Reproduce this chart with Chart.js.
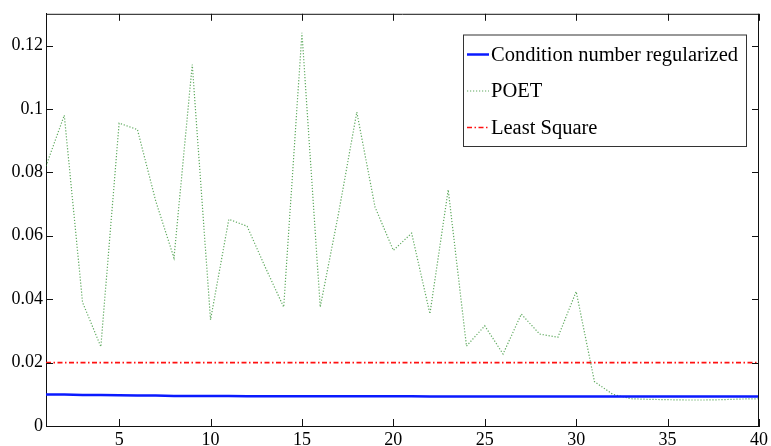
<!DOCTYPE html>
<html>
<head>
<meta charset="utf-8">
<script src="https://cdn.jsdelivr.net/npm/chart.js@4"></script>
<style>
  html, body { margin: 0; padding: 0; background: #fff; }
</style>
</head>
<body>
<canvas id="c" width="771" height="446"></canvas>
<script>
// ── Data ──────────────────────────────────────────────────────────────────────
const xValues = [1, 2, 3, 4, 5, 6, 7, 8, 9, 10, 11, 12, 13, 14, 15, 16, 17, 18, 19, 20,
  21, 22, 23, 24, 25, 26, 27, 28, 29, 30, 31, 32, 33, 34, 35, 36, 37, 38, 39, 40];

const condNumber = [0.0099, 0.0099, 0.0098, 0.0098, 0.0097, 0.0096, 0.0096, 0.0095, 0.0095, 0.0095,
  0.0095, 0.0094, 0.0094, 0.0094, 0.0094, 0.0094, 0.0094, 0.0094, 0.0094, 0.0094,
  0.0094, 0.0093, 0.0093, 0.0093, 0.0093, 0.0093, 0.0093, 0.0093, 0.0093, 0.0093,
  0.0093, 0.0093, 0.0093, 0.0093, 0.0093, 0.0093, 0.0093, 0.0093, 0.0093, 0.0093];

const poet = [0.082, 0.098, 0.039, 0.025, 0.0955, 0.0935, 0.071, 0.053, 0.114, 0.0335,
  0.0652, 0.063, 0.050, 0.0375, 0.124, 0.0375, 0.067, 0.099, 0.069, 0.0554,
  0.0608, 0.0354, 0.0745, 0.0252, 0.0316, 0.0227, 0.0353, 0.029, 0.028, 0.0424,
  0.0140, 0.0100, 0.0086, 0.0084, 0.0083, 0.0082, 0.0082, 0.0083, 0.0085, 0.0086];

const leastSquare = [0.02, 0.02, 0.02, 0.02, 0.02, 0.02, 0.02, 0.02, 0.02, 0.02,
  0.02, 0.02, 0.02, 0.02, 0.02, 0.02, 0.02, 0.02, 0.02, 0.02,
  0.02, 0.02, 0.02, 0.02, 0.02, 0.02, 0.02, 0.02, 0.02, 0.02,
  0.02, 0.02, 0.02, 0.02, 0.02, 0.02, 0.02, 0.02, 0.02, 0.02];

const seriesNames = ["Condition number regularized", "POET", "Least Square"];

const xTicks = [5, 10, 15, 20, 25, 30, 35, 40];
const yTicks = [0, 0.02, 0.04, 0.06, 0.08, 0.1, 0.12];
const yTickLabels = ["0", "0.02", "0.04", "0.06", "0.08", "0.1", "0.12"];

// ── Styling ───────────────────────────────────────────────────────────────────
const FONT = "Liberation Serif";
Chart.defaults.font.family = FONT;
Chart.defaults.color = "#000";

const toPoints = (ys) => ys.map((y, i) => ({ x: xValues[i], y }));

// Inward MATLAB-style ticks on all four sides plus the top/right frame
const framePlugin = {
  id: "frame",
  afterDatasetsDraw(chart) {
    const { ctx, chartArea: a, scales } = chart;
    const len = 7;
    ctx.save();
    ctx.strokeStyle = "#111";
    ctx.lineWidth = 1;
    ctx.beginPath();
    ctx.moveTo(a.left, a.top + 0.5); ctx.lineTo(a.right, a.top + 0.5);
    ctx.moveTo(a.right - 0.5, a.top); ctx.lineTo(a.right - 0.5, a.bottom);
    xTicks.forEach((v) => {
      const px = Math.round(scales.x.getPixelForValue(v)) + 0.5;
      ctx.moveTo(px, a.bottom); ctx.lineTo(px, a.bottom - len);
      ctx.moveTo(px, a.top); ctx.lineTo(px, a.top + len);
    });
    yTicks.forEach((v) => {
      const py = Math.round(scales.y.getPixelForValue(v)) + 0.5;
      ctx.moveTo(a.left, py); ctx.lineTo(a.left + len, py);
      ctx.moveTo(a.right, py); ctx.lineTo(a.right - len, py);
    });
    ctx.stroke();
    ctx.restore();
  },
};

// Boxed legend in the top-right corner of the axes
const boxLegendPlugin = {
  id: "boxLegend",
  afterDraw(chart) {
    const { ctx } = chart;
    const box = { x: 463, y: 34.5, w: 283, h: 111.5 };
    ctx.save();
    ctx.fillStyle = "#fff";
    ctx.fillRect(box.x, box.y, box.w, box.h);
    ctx.strokeStyle = "#333";
    ctx.lineWidth = 1;
    ctx.strokeRect(box.x + 0.5, box.y + 0.5, box.w, box.h);

    ctx.font = `20.5px ${FONT}`;
    ctx.textBaseline = "middle";
    ctx.fillStyle = "#000";
    chart.data.datasets.forEach((ds, i) => {
      const cy = 54.5 + i * 36.5;
      ctx.save();
      ctx.strokeStyle = ds.borderColor;
      ctx.lineWidth = ds.borderWidth;
      ctx.setLineDash(ds.borderDash || []);
      ctx.beginPath();
      ctx.moveTo(467, cy); ctx.lineTo(489, cy);
      ctx.stroke();
      ctx.restore();
      ctx.fillText(ds.label, 491, cy + 1);
    });
    ctx.restore();
  },
};

new Chart(document.getElementById("c"), {
  type: "line",
  data: {
    datasets: [
      { label: seriesNames[0], data: toPoints(condNumber), borderColor: "#0a1aff", borderWidth: 2.5 },
      { label: seriesNames[1], data: toPoints(poet), borderColor: "rgba(40,140,40,0.75)", borderWidth: 1.2, borderDash: [1.2, 1.8] },
      { label: seriesNames[2], data: toPoints(leastSquare), borderColor: "#ff1010", borderWidth: 1.6, borderDash: [5, 2.5, 1.5, 2.5] },
    ],
  },
  options: {
    responsive: false,
    animation: false,
    layout: { padding: { top: 13, right: 9, left: 0, bottom: 0 } },
    elements: { point: { radius: 0 }, line: { tension: 0 } },
    plugins: { legend: { display: false }, tooltip: { enabled: false } },
    scales: {
      x: {
        type: "linear", min: 1, max: 40,
        afterBuildTicks: (s) => { s.ticks = xTicks.map((v) => ({ value: v })); },
        afterFit: (s) => { s.height = 20; },
        ticks: { autoSkip: false, maxRotation: 0, padding: 3, color: "#000", font: { family: FONT, size: 18 } },
        grid: { display: false, drawTicks: false },
        border: { display: true, color: "#111", width: 1 },
      },
      y: {
        min: 0, max: 0.13,
        afterBuildTicks: (s) => { s.ticks = yTicks.map((v) => ({ value: v })); },
        afterFit: (s) => { s.width = 46; },
        ticks: {
          autoSkip: false, padding: 3, color: "#000", font: { family: FONT, size: 18 },
          callback: (v) => yTickLabels[yTicks.indexOf(v)],
        },
        grid: { display: false, drawTicks: false },
        border: { display: true, color: "#111", width: 1 },
      },
    },
  },
  plugins: [framePlugin, boxLegendPlugin],
});
</script>
</body>
</html>
